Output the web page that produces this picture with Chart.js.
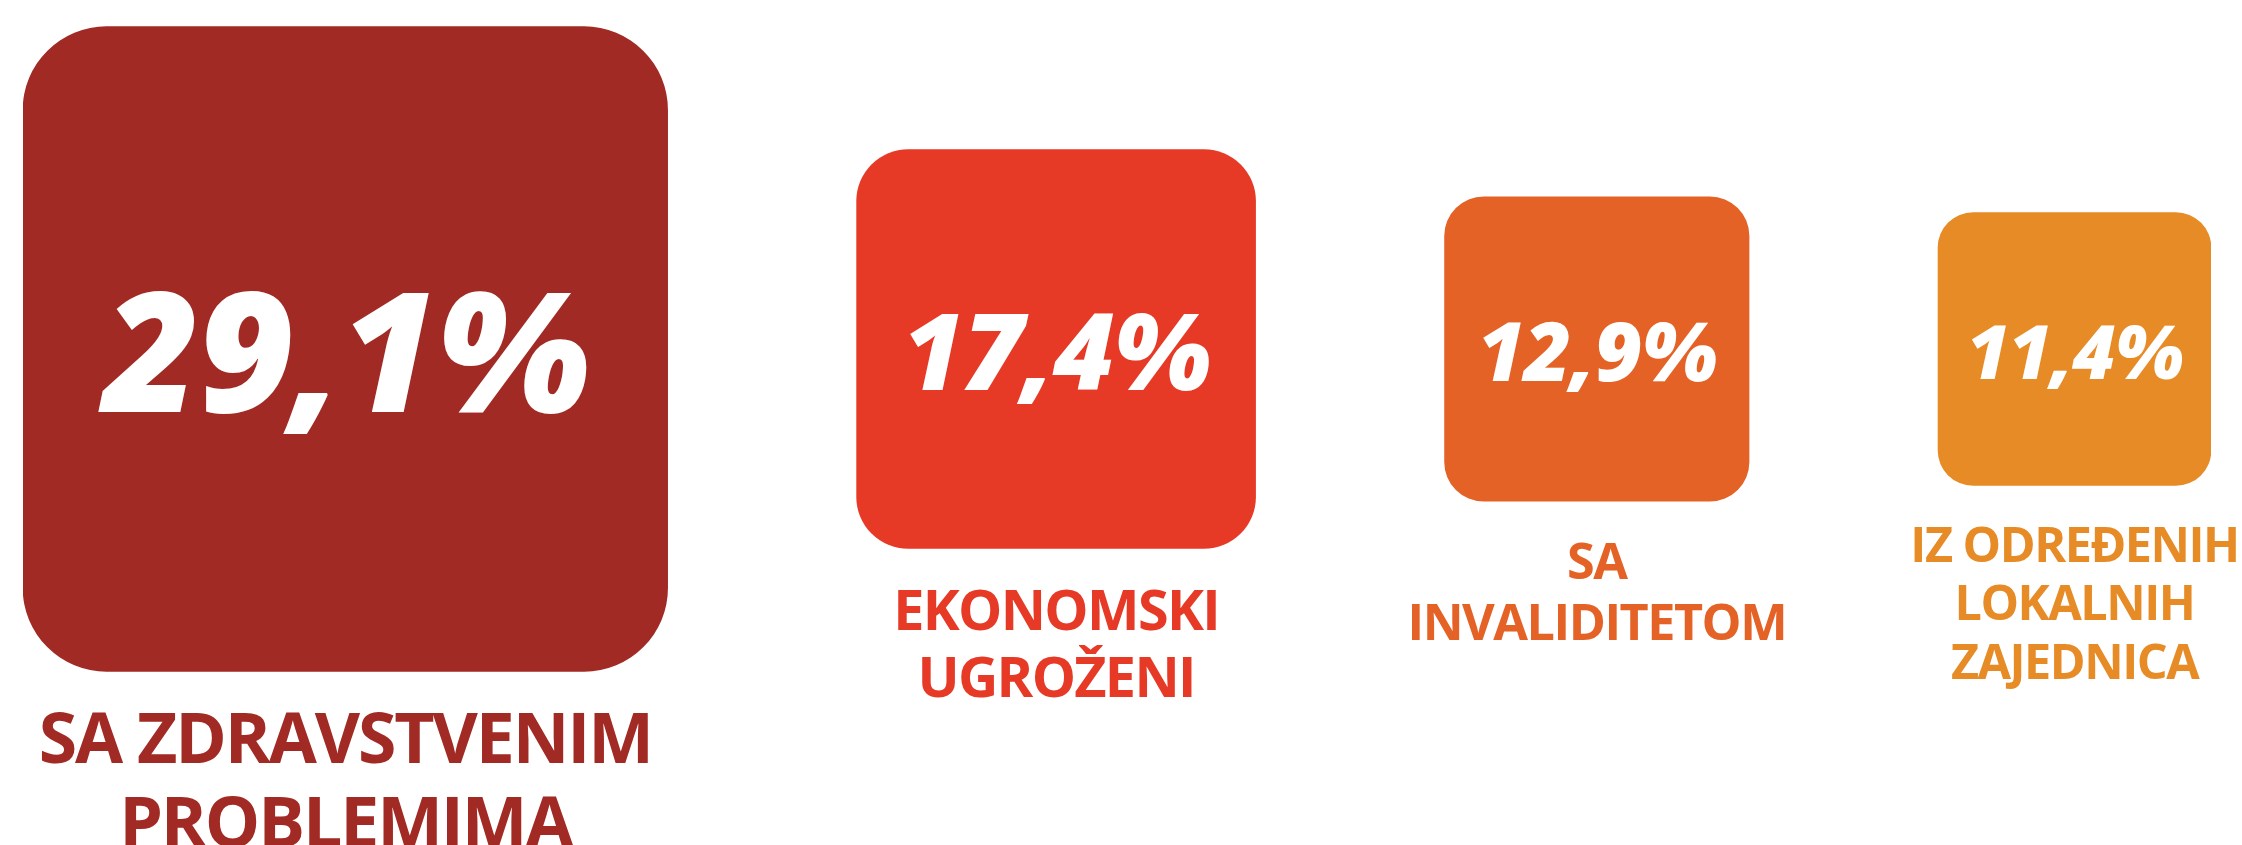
<!DOCTYPE html>
<html>
<head>
<meta charset="utf-8">
<script src="https://cdn.jsdelivr.net/npm/chart.js@4/dist/chart.umd.min.js"></script>
<style>
  html, body { margin: 0; padding: 0; background: #fff; }
  #wrap { width: 2242px; height: 845px; position: relative; }
</style>
</head>
<body>
<div id="wrap"><canvas id="groups-chart"></canvas></div>
<script>
// groups and their share
const categories = [
  ['SA ZDRAVSTVENIM', 'PROBLEMIMA'],
  ['EKONOMSKI', 'UGROŽENI'],
  ['SA', 'INVALIDITETOM'],
  ['IZ ODREĐENIH', 'LOKALNIH', 'ZAJEDNICA']
];
const shares = [29.1, 17.4, 12.9, 11.4];
const colors = ['#A22A24', '#E63A27', '#E46226', '#E68B25'];

// squares sit side by side on one row, in value units
const BASE = 1.6; // small extra so the little ones stay readable
const GAP = 9;

function buildSpans() {
  let start = 0;
  return shares.map(v => {
    const r = [start, start + v + BASE];
    start = r[1] + GAP;
    return r;
  });
}
const spans = buildSpans();
const xMax = spans[spans.length - 1][1];

// width of a square in pixels -> also used for its height
function sidePx(ctx) {
  const x = ctx.chart.scales.x;
  if (!x) return 100;
  const [a, b] = spans[ctx.datasetIndex];
  return Math.abs(x.getPixelForValue(b) - x.getPixelForValue(a));
}

const pct = v => v.toFixed(1).replace('.', ',') + '%';

const squareLabels = {
  id: 'squareLabels',
  afterDatasetsDraw(chart) {
    const ctx = chart.ctx;
    ctx.save();
    ctx.textAlign = 'center';
    ctx.textBaseline = 'alphabetic';
    chart.data.datasets.forEach((ds, i) => {
      const bar = chart.getDatasetMeta(i).data[0];
      if (!bar) return;
      const { x, y, base, height } = bar.getProps(['x', 'y', 'base', 'height'], true);
      const cx = (x + base) / 2;
      const side = height;

      // value inside
      const big = 6.5 + 0.249 * side;
      ctx.fillStyle = '#fff';
      ctx.font = `italic 800 ${big}px "Open Sans"`;
      ctx.letterSpacing = (-0.015 * big).toFixed(1) + 'px';
      ctx.fillText(pct(shares[i]), cx, y + 3 + 0.357 * big);

      // group name below
      const small = 33 + 0.057 * side;
      ctx.fillStyle = colors[i];
      ctx.font = `700 ${small}px "Open Sans"`;
      ctx.letterSpacing = (-0.03 * small).toFixed(1) + 'px';
      let ly = y + side / 2 + 42 + 0.714 * small;
      categories[i].forEach(line => {
        ctx.fillText(line, cx, ly);
        ly += 1.2 * small;
      });
    });
    ctx.restore();
  }
};

const canvas = document.getElementById('groups-chart');

new Chart(canvas, {
  type: 'bar',
  data: {
    labels: [''],
    datasets: shares.map((v, i) => ({
      label: categories[i].join(' '),
      data: [spans[i]],
      backgroundColor: colors[i],
      borderWidth: 0,
      borderSkipped: false,
      borderRadius: ctx => 0.13 * sidePx(ctx),
      maxBarThickness: ctx => sidePx(ctx),
      barPercentage: 1,
      categoryPercentage: 1,
      grouped: false
    }))
  },
  options: {
    indexAxis: 'y',
    responsive: true,
    maintainAspectRatio: false,
    animation: false,
    devicePixelRatio: 1,
    layout: { padding: { left: 23, right: 31, top: 0, bottom: 147 } },
    plugins: {
      legend: { display: false },
      tooltip: { enabled: false }
    },
    scales: {
      x: { type: 'linear', min: 0, max: xMax, display: false },
      y: { type: 'category', display: false, offset: true }
    }
  },
  plugins: [squareLabels]
});
</script>
</body>
</html>
